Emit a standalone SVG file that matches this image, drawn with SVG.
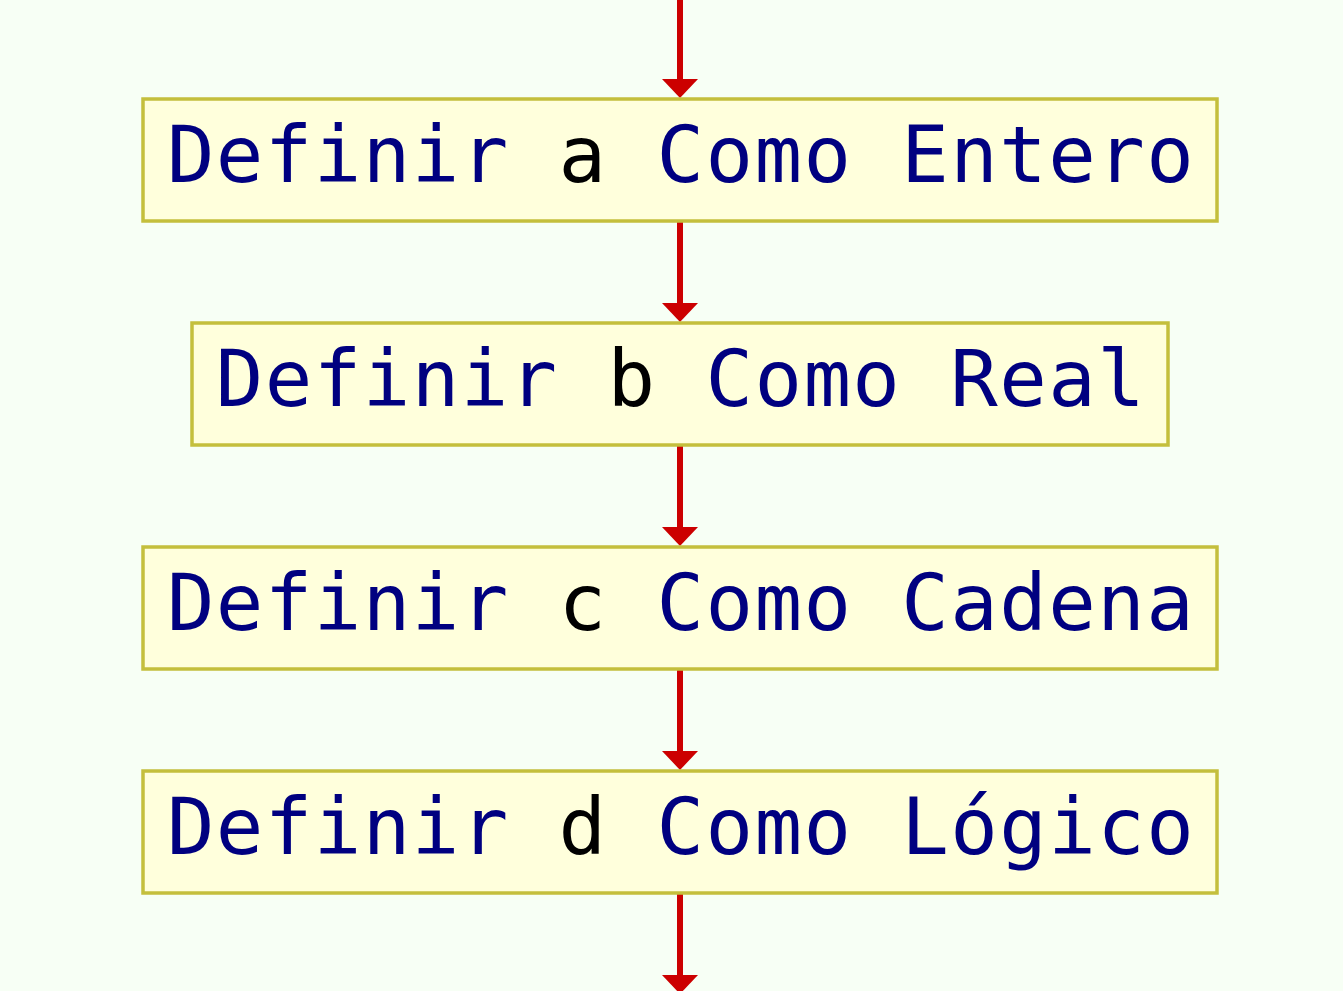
<svg xmlns="http://www.w3.org/2000/svg" width="1343" height="991" viewBox="0 0 1343 991">
<style>
.box{fill:#ffffdc;stroke:#c4bf3c;stroke-width:3.5}
.t{font-family:"DejaVu Sans Mono","Liberation Mono",monospace;font-size:79px;letter-spacing:1.4px;fill:#000080}
.v{fill:#000000}
.ln{stroke:#cc0000;stroke-width:6;fill:none}
.ah{fill:#cc0000}
</style>
<rect x="0" y="0" width="1343" height="991" fill="#f7fff5"/>
<g id="connectors">
<line class="ln" x1="680" y1="0" x2="680" y2="84"/>
<polygon class="ah" points="662,79 698,79 680,98"/>
<line class="ln" x1="680" y1="221" x2="680" y2="308"/>
<polygon class="ah" points="662,303 698,303 680,322"/>
<line class="ln" x1="680" y1="445" x2="680" y2="532"/>
<polygon class="ah" points="662,527 698,527 680,546"/>
<line class="ln" x1="680" y1="669" x2="680" y2="756"/>
<polygon class="ah" points="662,751 698,751 680,770"/>
<line class="ln" x1="680" y1="893" x2="680" y2="980"/>
<polygon class="ah" points="662,975 698,975 680,994"/>
</g>
<g id="node1">
<rect class="box" x="143" y="99" width="1074" height="122"/>
<text class="t" x="681" y="182" text-anchor="middle">Definir <tspan class="v">a</tspan> Como Entero</text>
</g>
<g id="node2">
<rect class="box" x="192" y="323" width="976" height="122"/>
<text class="t" x="681" y="406" text-anchor="middle">Definir <tspan class="v">b</tspan> Como Real</text>
</g>
<g id="node3">
<rect class="box" x="143" y="547" width="1074" height="122"/>
<text class="t" x="681" y="630" text-anchor="middle">Definir <tspan class="v">c</tspan> Como Cadena</text>
</g>
<g id="node4">
<rect class="box" x="143" y="771" width="1074" height="122"/>
<text class="t" x="681" y="854" text-anchor="middle">Definir <tspan class="v">d</tspan> Como Lógico</text>
</g>
</svg>
